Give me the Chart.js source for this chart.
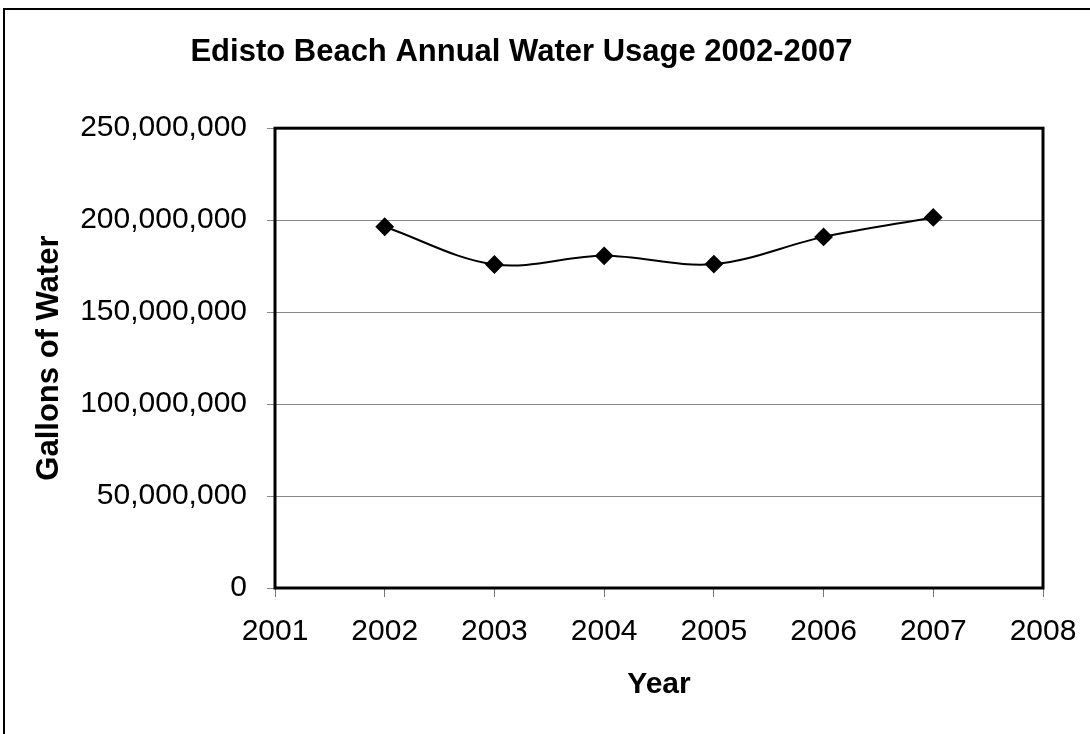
<!DOCTYPE html>
<html>
<head>
<meta charset="utf-8">
<script src="https://cdn.jsdelivr.net/npm/chart.js@4"></script>
<style>
  html, body { margin: 0; padding: 0; background: #fff; }
  #wrap { position: relative; width: 1090px; height: 734px; overflow: hidden; }
  #frame { position: absolute; left: 3px; top: 8px; width: 1200px; height: 800px;
           border-left: 2px solid #000; border-top: 2px solid #000; }
  canvas { position: absolute; left: 0; top: 0; }
</style>
</head>
<body>
<div id="wrap">
  <div id="frame"></div>
  <canvas id="chart" width="1090" height="734"></canvas>
</div>
<script>
var years = [2002, 2003, 2004, 2005, 2006, 2007];
var gallons = [196400000, 175900000, 180600000, 176100000, 190900000, 201500000];
var xTicks = [2001, 2002, 2003, 2004, 2005, 2006, 2007, 2008];
var yTicks = [0, 50000000, 100000000, 150000000, 200000000, 250000000];

var FONT = "'Liberation Sans', Arial, Helvetica, sans-serif";

// thick frame around the plot area
var plotBorder = {
    id: 'plotBorder',
    afterDraw: function(chart) {
        var a = chart.chartArea;
        var ctx = chart.ctx;
        ctx.save();
        ctx.strokeStyle = '#000';
        ctx.lineWidth = 3;
        ctx.strokeRect(a.left, a.top, a.right - a.left, a.bottom - a.top);
        ctx.restore();
    }
};

var points = years.map(function(y, i) { return {x: y, y: gallons[i]}; });

new Chart(document.getElementById('chart'), {
    type: 'line',
    data: {
        datasets: [{
            data: points,
            borderColor: '#000',
            borderWidth: 2,
            tension: 0.35,
            pointStyle: 'rectRot',
            pointRadius: 8,
            pointBackgroundColor: '#000',
            pointBorderColor: '#000',
            fill: false
        }]
    },
    options: {
        responsive: false,
        animation: false,
        layout: { padding: { left: 0, right: 47, top: 0, bottom: 0 } },
        plugins: {
            legend: { display: false },
            tooltip: { enabled: false },
            title: {
                display: true,
                text: 'Edisto Beach Annual Water Usage 2002-2007',
                color: '#000',
                font: { family: FONT, size: 31, weight: 'bold' },
                padding: { top: 34, bottom: 57 }
            }
        },
        scales: {
            x: {
                type: 'linear',
                min: 2001,
                max: 2008,
                afterBuildTicks: function(scale) {
                    scale.ticks = xTicks.map(function(v) { return {value: v}; });
                },
                afterFit: function(scale) {
                    scale.height = 734 - 588;
                    scale.paddingRight = 0;
                    scale.paddingLeft = 0;
                },
                grid: { drawOnChartArea: false, drawTicks: true, tickLength: 9, color: '#777' },
                border: { display: false },
                ticks: {
                    color: '#000',
                    padding: 17,
                    font: { family: FONT, size: 30 },
                    callback: function(v) { return String(v); }
                },
                title: {
                    display: true,
                    text: 'Year',
                    color: '#000',
                    font: { family: FONT, size: 30, weight: 'bold' },
                    padding: { top: 14, bottom: 31 }
                }
            },
            y: {
                min: 0,
                max: 250000000,
                afterBuildTicks: function(scale) {
                    scale.ticks = yTicks.map(function(v) { return {value: v}; });
                },
                afterFit: function(scale) { scale.width = 275; },
                grid: { drawOnChartArea: true, drawTicks: true, tickLength: 8, color: '#888' },
                border: { display: false },
                ticks: {
                    color: '#000',
                    padding: 20,
                    font: { family: FONT, size: 30 },
                    callback: function(v) { return v.toLocaleString('en-US'); }
                },
                title: {
                    display: true,
                    text: 'Gallons of Water',
                    color: '#000',
                    font: { family: FONT, size: 31, weight: 'bold' },
                    padding: { top: 31, bottom: 0 }
                }
            }
        }
    },
    plugins: [plotBorder]
});
</script>
</body>
</html>
